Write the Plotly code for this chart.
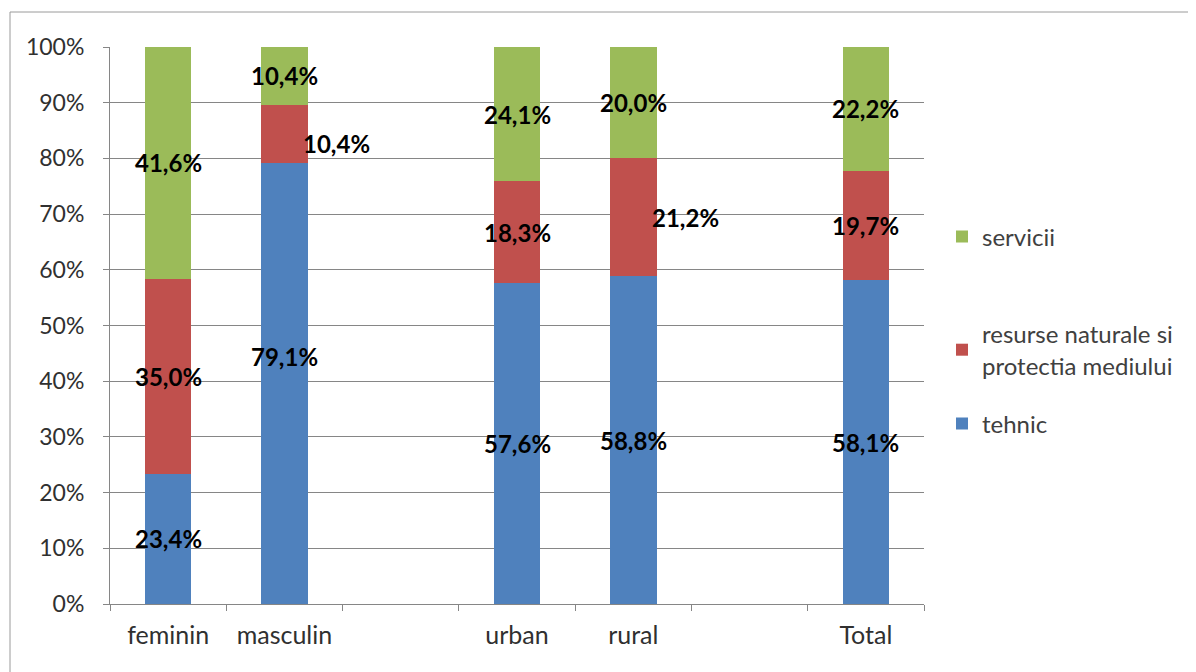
import plotly.graph_objects as go

categories = ["feminin", "masculin", " ", "urban", "rural", "  ", "Total"]
tehnic = [23.4, 79.1, None, 57.6, 58.8, None, 58.1]
resurse = [35.0, 10.4, None, 18.3, 21.2, None, 19.7]
servicii = [41.6, 10.4, None, 24.1, 20.0, None, 22.2]
series_names = ["tehnic", "resurse naturale si<br>protectia mediului", "servicii"]
colors = ["#4F81BD", "#C0504D", "#9BBB59"]
ytick_vals = [0, 10, 20, 30, 40, 50, 60, 70, 80, 90, 100]
ytick_text = [f"{v}%" for v in ytick_vals]

FONT = "Lato"
OFF = 8  # page body margin offsets the figure
L, R, T, B = 110 - OFF, 924 - OFF, 47 - OFF, 604 - OFF
W, H = 1196, 672
PW, PH = R - L, B - T

fig = go.Figure()
series = [tehnic, resurse, servicii]
legends = ["legend3", "legend2", "legend"]
for vals, name, col, lg in zip(series, series_names, colors, legends):
    fig.add_trace(go.Bar(x=categories, y=vals, name=name, marker_color=col,
                         marker_line_width=0, legend=lg, hoverinfo="skip"))

# label offsets (px) for a few labels that Excel placed off-centre
shifts = {("masculin", 0): (0, 27), ("masculin", 1): (52, -10), ("rural", 1): (52, 0)}
for i, cat in enumerate(categories):
    vals = [s[i] for s in series]
    if vals[0] is None:
        continue
    tot = sum(vals)
    base = 0
    for k, v in enumerate(vals):
        pct = v / tot * 100
        xs, ys = shifts.get((cat, k), (0, 0))
        fig.add_annotation(x=cat, y=base + pct / 2, text=f"{v:.1f}%".replace(".", ","),
                           showarrow=False, xshift=xs, yshift=ys,
                           font=dict(family=FONT, size=24, color="#000000", weight="bold"))
        base += pct

def leg(ypx):
    return dict(x=(942 - OFF - L) / PW, y=1 - (ypx - OFF - T) / PH, xanchor="left", yanchor="middle",
                font=dict(family=FONT, size=24, color="#404040"), bgcolor="rgba(0,0,0,0)")

fig.update_layout(
    barmode="stack", barnorm="percent", bargap=0.6,
    width=W, height=H,
    margin=dict(l=L, r=W - R, t=T, b=H - B, autoexpand=False),
    paper_bgcolor="white", plot_bgcolor="white",
    font=dict(family=FONT, size=23, color="#404040"),
    legend=leg(237), legend2=leg(350), legend3=leg(424),
    xaxis=dict(type="category", categoryorder="array", categoryarray=categories,
               range=[-0.5, 6.5], tickson="boundaries", ticks="outside", ticklen=6,
               tickcolor="#868686", showline=True, linecolor="#868686", linewidth=1,
               showgrid=False, ticklabelstandoff=9,
               tickfont=dict(family=FONT, size=25, color="#303030")),
    yaxis=dict(range=[0, 100], tickvals=ytick_vals, ticktext=ytick_text,
               ticks="outside", ticklen=6, tickcolor="#868686",
               showline=True, linecolor="#868686", linewidth=1, ticklabelstandoff=14,
               showgrid=True, gridcolor="#868686", gridwidth=1, zeroline=False,
               tickfont=dict(family=FONT, size=23, color="#303030")),
    showlegend=True,
)
# outer chart border (only top/left visible in the crop)
fig.add_shape(type="rect", xref="paper", yref="paper",
              x0=(10 - OFF - L) / PW, x1=1.5, y0=-0.5, y1=1 + (T - (12 - OFF)) / PH,
              line=dict(color="#9a9a9a", width=1), layer="below")
fig.write_html("out.html")
